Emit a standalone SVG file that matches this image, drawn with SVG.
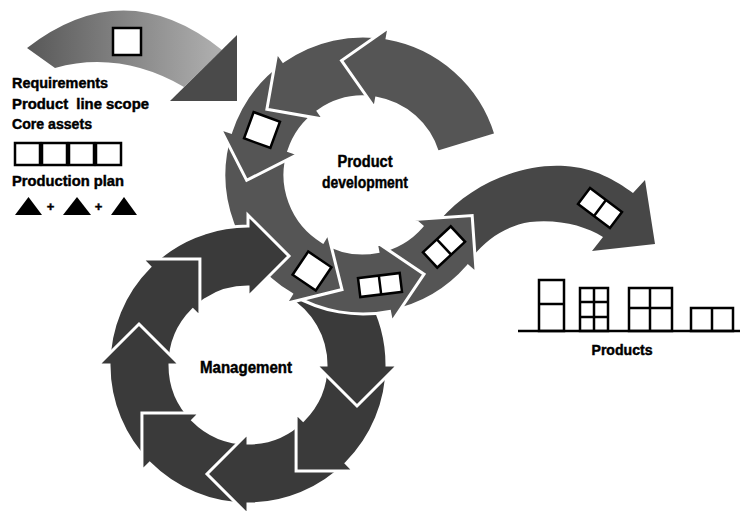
<svg xmlns="http://www.w3.org/2000/svg" width="741" height="519" viewBox="0 0 741 519">
  <defs>
    <style>
      .lbl{font-family:"Liberation Sans",Arial,sans-serif;font-weight:bold;fill:#000;stroke:#000;stroke-width:0.45}
      .mg{fill:#3a3a3a;stroke:#fff;stroke-width:3;stroke-linejoin:miter}
      .pd{fill:#555;stroke:#fff;stroke-width:3;stroke-linejoin:miter}
      .box{fill:#fff;stroke:#000;stroke-width:2.5}
      .ln{fill:none;stroke:#000;stroke-width:2.5}
    </style>
    <linearGradient id="inGrad" x1="27" y1="0" x2="230" y2="0" gradientUnits="userSpaceOnUse">
      <stop offset="0" stop-color="#585858"/>
      <stop offset="1" stop-color="#b4b4b4"/>
    </linearGradient>
    <!-- ring arrow segments: body is an annular sector (r 78..139) ending on the +x axis,
         head is a right-angled triangle pointing along +y; the number is the body span in degrees -->
    <path id="a37" d="M111.0,-83.6 A139,139 0 0 1 139,0 L150,0 L109,41 L68,0 L78,0 A78,78 0 0 0 62.3,-46.9 Z"/>
    <path id="a38" d="M109.5,-85.6 A139,139 0 0 1 139,0 L150,0 L109,41 L68,0 L78,0 A78,78 0 0 0 61.5,-48.0 Z"/>
    <path id="a42" d="M103.3,-93.0 A139,139 0 0 1 139,0 L150,0 L109,41 L68,0 L78,0 A78,78 0 0 0 58.0,-52.2 Z"/>
    <path id="a45" d="M98.3,-98.3 A139,139 0 0 1 139,0 L150,0 L109,41 L68,0 L78,0 A78,78 0 0 0 55.2,-55.2 Z"/>
    <path id="a60" d="M69.5,-120.4 A139,139 0 0 1 139,0 L150,0 L109,41 L68,0 L78,0 A78,78 0 0 0 39.0,-67.5 Z"/>
    <path id="a63" d="M63.1,-123.8 A139,139 0 0 1 139,0 L150,0 L109,41 L68,0 L78,0 A78,78 0 0 0 35.4,-69.5 Z"/>
    <path id="a77" d="M31.3,-135.4 A139,139 0 0 1 139,0 L150,0 L109,41 L68,0 L78,0 A78,78 0 0 0 17.5,-76.0 Z"/>
    <clipPath id="overlapClip">
      <rect x="205" y="150" width="200" height="200"/>
    </clipPath>
  </defs>

  <rect width="741" height="519" fill="#fff"/>

  <!-- incoming curved arrow -->
  <g id="input-arrow">
    <path d="M27,48 Q125,-28 222,50 L184,87 Q120,50 55,68 Z" fill="url(#inGrad)"/>
    <polygon points="170,101 237,35 237,101" fill="#4a4a4a"/>
    <rect class="box" x="113" y="28" width="28" height="27"/>
  </g>

  <!-- inputs legend -->
  <g id="inputs">
    <text class="lbl" x="12" y="88" font-size="14.5" textLength="96" lengthAdjust="spacingAndGlyphs">Requirements</text>
    <text class="lbl" x="12" y="109" font-size="14.5" textLength="137" lengthAdjust="spacingAndGlyphs" xml:space="preserve">Product  line scope</text>
    <text class="lbl" x="12" y="129" font-size="14.5" textLength="80" lengthAdjust="spacingAndGlyphs">Core assets</text>
    <rect class="box" x="15" y="143" width="25" height="22"/>
    <rect class="box" x="42" y="143" width="25" height="22"/>
    <rect class="box" x="69" y="143" width="25" height="22"/>
    <rect class="box" x="96" y="143" width="25" height="22"/>
    <text class="lbl" x="12" y="186" font-size="14.5" textLength="112" lengthAdjust="spacingAndGlyphs">Production plan</text>
    <polygon points="15,215 28.5,197 42,215" fill="#000"/>
    <text class="lbl" x="50.5" y="211" font-size="13" text-anchor="middle">+</text>
    <polygon points="63,215 77,197 91,215" fill="#000"/>
    <text class="lbl" x="98.5" y="211" font-size="13" text-anchor="middle">+</text>
    <polygon points="111,215 124,197 137,215" fill="#000"/>
  </g>

  <!-- management cycle (clockwise) -->
  <g id="management">
    <use href="#a45" class="mg" transform="translate(248,365) rotate(270)"/>
    <use href="#a45" class="mg" transform="translate(248,365) rotate(225)"/>
    <use href="#a45" class="mg" transform="translate(248,365) rotate(180)"/>
    <use href="#a45" class="mg" transform="translate(248,365) rotate(135)"/>
    <use href="#a45" class="mg" transform="translate(248,365) rotate(90)"/>
    <use href="#a45" class="mg" transform="translate(248,365) rotate(45)"/>
    <use href="#a60" class="mg" transform="translate(248,365)"/>
    <text class="lbl" x="246" y="373" font-size="16" text-anchor="middle" textLength="92" lengthAdjust="spacingAndGlyphs">Management</text>
  </g>

  <!-- product development cycle (counter-clockwise) with the outgoing arrow -->
  <g id="product-development">
    <path d="M440,220 C470,185 520,163 565,166 C595,168 615,180 633,193 L645,180 L655,244 L592,251 L603,237 C585,226 560,219 530,222 C505,226 485,240 470,260 Z" fill="#474747"/>
    <use href="#a38" class="pd" transform="translate(363,175) rotate(41) scale(1,-1)"/>
    <use href="#a42" class="pd" transform="translate(363,175) rotate(79) scale(1,-1)"/>
    <use href="#a77" class="pd" transform="translate(363,175) rotate(121) scale(1,-1)"/>
    <use href="#a37" class="pd" transform="translate(363,175) rotate(198) scale(1,-1)"/>
    <use href="#a45" class="pd" transform="translate(363,175) rotate(235) scale(1,-1)"/>
    <use href="#a63" class="pd" transform="translate(363,175) rotate(280) scale(1,-1)"/>
    <text class="lbl" x="365" y="167" font-size="16" text-anchor="middle" textLength="55" lengthAdjust="spacingAndGlyphs">Product</text>
    <text class="lbl" x="365" y="188" font-size="16" text-anchor="middle" textLength="86" lengthAdjust="spacingAndGlyphs">development</text>
  </g>

  <!-- management arrow that passes over the development ring -->
  <g id="management-overlap" clip-path="url(#overlapClip)">
    <use href="#a45" class="mg" transform="translate(248,365) rotate(270)"/>
  </g>

  <!-- work items carried by the arrows -->
  <g id="items">
    <rect class="box" x="-14" y="-14" width="28" height="28" transform="translate(262,130) rotate(20)"/>
    <rect class="box" x="-14" y="-14" width="28" height="28" transform="translate(312,271) rotate(34)"/>
    <g transform="translate(380,285) rotate(-7)">
      <rect class="box" x="-21" y="-9.5" width="42" height="19"/>
      <line class="ln" x1="0" y1="-9.5" x2="0" y2="9.5"/>
    </g>
    <g transform="translate(444,247) rotate(-43)">
      <rect class="box" x="-19" y="-10.5" width="38" height="21"/>
      <line class="ln" x1="0" y1="-10.5" x2="0" y2="10.5"/>
    </g>
    <g transform="translate(600,208) rotate(37)">
      <rect class="box" x="-20" y="-10" width="40" height="20"/>
      <line class="ln" x1="0" y1="-10" x2="0" y2="10"/>
    </g>
  </g>

  <!-- finished products -->
  <g id="products">
    <line class="ln" x1="518" y1="331" x2="740" y2="331"/>
    <rect class="ln" x="539" y="280" width="25" height="51"/>
    <line class="ln" x1="539" y1="304" x2="564" y2="304"/>
    <rect class="ln" x="580" y="288" width="28" height="43"/>
    <line class="ln" x1="594" y1="288" x2="594" y2="331"/>
    <line class="ln" x1="580" y1="302" x2="608" y2="302"/>
    <line class="ln" x1="580" y1="317" x2="608" y2="317"/>
    <rect class="ln" x="629" y="288" width="43" height="43"/>
    <line class="ln" x1="650" y1="288" x2="650" y2="331"/>
    <line class="ln" x1="629" y1="308" x2="672" y2="308"/>
    <rect class="ln" x="691" y="308" width="42" height="23"/>
    <line class="ln" x1="712" y1="308" x2="712" y2="331"/>
    <text class="lbl" x="622" y="355" font-size="14" text-anchor="middle" textLength="61" lengthAdjust="spacingAndGlyphs">Products</text>
  </g>
</svg>
